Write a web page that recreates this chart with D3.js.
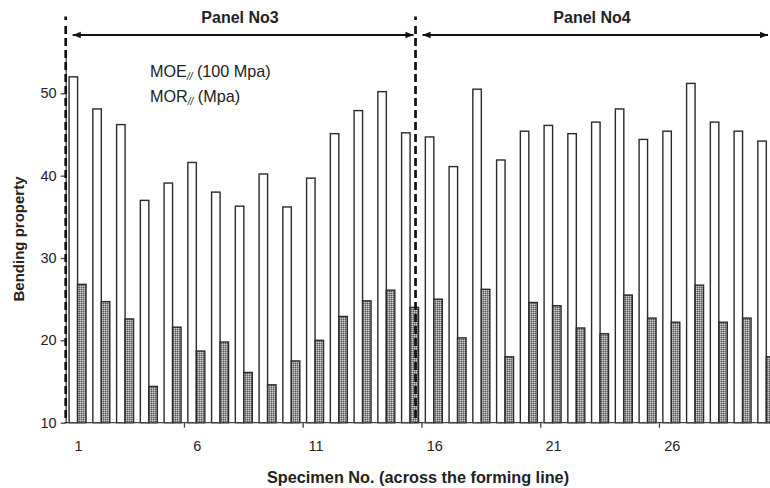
<!DOCTYPE html>
<html>
<head>
<meta charset="utf-8">
<script src="https://cdn.jsdelivr.net/npm/d3@7"></script>
<style>
  html, body { margin: 0; padding: 0; background: #fff; }
  svg { display: block; font-family: "Liberation Sans", Arial, sans-serif; }
</style>
</head>
<body>
<svg id="chart" width="770" height="488"></svg>
<script>
// ---- data ----
const specimens = [1,2,3,4,5,6,7,8,9,10,11,12,13,14,15,16,17,18,19,20,21,22,23,24,25,26,27,28,29,30];
const moe = [52.0,48.1,46.2,37.0,39.1,41.6,38.0,36.3,40.2,36.2,39.7,45.1,47.9,50.2,45.2,
             44.7,41.1,50.5,41.9,45.4,46.1,45.1,46.5,48.1,44.4,45.4,51.2,46.5,45.4,44.2];
const mor = [26.8,24.7,22.6,14.4,21.6,18.7,19.8,16.1,14.6,17.5,20.0,22.9,24.8,26.1,24.0,
             25.0,20.3,26.2,18.0,24.6,24.2,21.5,20.8,25.5,22.7,22.2,26.7,22.2,22.7,18.0];
const seriesNames = ["MOE", "MOR"];
const yTicks = [10, 20, 30, 40, 50];
const xTickLabels = [1, 6, 11, 16, 21, 26];
const xTickBoundaries = [5, 10, 15, 20, 25];
const panels = ["Panel No3", "Panel No4"];
const panelBoundary = 14.73; // in specimen-width units from the axis

// ---- layout ----
const svg = d3.select("#chart");
const left = 65.7, bottom = 422.7, step = 23.75;
const x = d3.scaleBand().domain(specimens).range([left, left + step * specimens.length]).paddingInner(0).paddingOuter(0);
const xs = d3.scaleBand().domain(seriesNames).range([0, x.bandwidth()]).paddingInner(0).paddingOuter(0.4);
const y = d3.scaleLinear().domain([10, 55]).range([bottom, bottom - 45 * 8.235]);

// pattern for MOR
const defs = svg.append("defs");
const pat = defs.append("pattern").attr("id", "dots").attr("patternUnits", "userSpaceOnUse")
  .attr("width", 2).attr("height", 2);
pat.append("rect").attr("width", 2).attr("height", 2).attr("fill", "#969696");
pat.append("rect").attr("x", 0).attr("y", 0).attr("width", 1).attr("height", 1).attr("fill", "#cccccc");
pat.append("rect").attr("x", 1).attr("y", 1).attr("width", 1).attr("height", 1).attr("fill", "#585858");

// arrow markers
function marker(id, orient) {
  defs.append("marker").attr("id", id).attr("viewBox", "0 0 10 10").attr("refX", 10).attr("refY", 5)
    .attr("markerWidth", 4.5).attr("markerHeight", 4.5).attr("orient", orient).attr("markerUnits", "strokeWidth")
    .append("path").attr("d", "M0,1 L10,5 L0,9 Z").attr("fill", "#111");
}
marker("arrowEnd", "auto");
marker("arrowStart", "auto-start-reverse");

// ---- bars ----
const g = svg.append("g");
specimens.forEach((s, i) => {
  const vals = [moe[i], mor[i]];
  seriesNames.forEach((name, j) => {
    g.append("rect")
      .attr("x", x(s) + xs(name))
      .attr("y", y(vals[j]))
      .attr("width", xs.bandwidth())
      .attr("height", y(10) - y(vals[j]))
      .attr("fill", j === 0 ? "#ffffff" : "url(#dots)")
      .attr("stroke", "#2a2a2a")
      .attr("stroke-width", 1.4);
  });
});

// ---- axes ----
const yAxis = svg.append("g").attr("transform", `translate(${left},0)`)
  .call(d3.axisLeft(y).tickValues(yTicks).tickSize(5).tickSizeOuter(0).tickPadding(4));
yAxis.select(".domain").attr("stroke", "#444").attr("stroke-width", 1.3);
yAxis.selectAll(".tick line").attr("stroke", "#444").attr("stroke-width", 1.3);
yAxis.selectAll(".tick text").attr("font-size", 14.5).attr("fill", "#222")
  .attr("font-family", "Liberation Sans, Arial, sans-serif");

const xAxisG = svg.append("g");
xAxisG.append("line").attr("x1", left).attr("x2", x.range()[1]).attr("y1", bottom).attr("y2", bottom)
  .attr("stroke", "#444").attr("stroke-width", 1.3);
xAxisG.selectAll(".xt").data(xTickBoundaries).join("line")
  .attr("x1", d => x(specimens[d])).attr("x2", d => x(specimens[d]))
  .attr("y1", bottom).attr("y2", bottom + 5).attr("stroke", "#444").attr("stroke-width", 1.3);
xAxisG.selectAll(".xl").data(xTickLabels).join("text")
  .attr("x", d => x(d) + x.bandwidth() / 2 + 1)
  .attr("y", 450.5).attr("text-anchor", "middle").attr("font-size", 14.5).attr("fill", "#222")
  .text(d => d);

// ---- axis titles ----
svg.append("text").attr("x", 418).attr("y", 483).attr("text-anchor", "middle")
  .attr("font-size", 16.3).attr("font-weight", "bold").attr("fill", "#222")
  .text("Specimen No. (across the forming line)");
svg.append("text").attr("transform", "translate(24,239) rotate(-90)").attr("text-anchor", "middle")
  .attr("font-size", 15).attr("font-weight", "bold").attr("fill", "#222")
  .text("Bending property");

// ---- legend (text only) ----
function legendText(yPos, main, rest) {
  const t = svg.append("text").attr("x", 150).attr("y", yPos).attr("font-size", 16.2).attr("fill", "#222");
  t.append("tspan").text(main);
  t.append("tspan").attr("dy", 3).attr("font-size", 10).attr("font-style", "italic").text("//");
  t.append("tspan").attr("dy", -3).text(rest);
}
legendText(76.5, "MOE", " (100 Mpa)");
legendText(101.7, "MOR", " (Mpa)");

// ---- panel annotations ----
const bx = left + panelBoundary * step;
[left, bx].forEach(xx => {
  svg.append("line").attr("x1", xx).attr("x2", xx).attr("y1", 16.5).attr("y2", bottom)
    .attr("stroke", "#111").attr("stroke-width", 2.7).attr("stroke-dasharray", "3.5,6,8,4,8,4,8,4,8,4,8,4,8,4,8,4,8,4,8,4,8,4,8,4,8,4,8,4,8,4,8,4,8,4,8,4,8,4,8,4,8,4,8,4,8,4,8,4,8,4,8,4,8,4,8,4,8,4,8,4,8,4,8,4,8,4,8,4,8,4,8,4,8,4,8,4,8,4,8,4,8,4,8,4,8,4,8,4");
});
const arrowY = 35;
const arrows = [[left + 6, bx - 1], [bx + 6, 769]];
arrows.forEach((a, i) => {
  svg.append("line").attr("x1", a[0] + 1).attr("x2", a[1] - 1).attr("y1", arrowY).attr("y2", arrowY)
    .attr("stroke", "#111").attr("stroke-width", 1.8)
    .attr("marker-start", "url(#arrowStart)").attr("marker-end", "url(#arrowEnd)");
  svg.append("text").attr("x", i === 0 ? 240 : 592).attr("y", 22.5).attr("text-anchor", "middle")
    .attr("font-size", 16).attr("font-weight", "bold").attr("fill", "#222")
    .text(panels[i]);
});
</script>
</body>
</html>
